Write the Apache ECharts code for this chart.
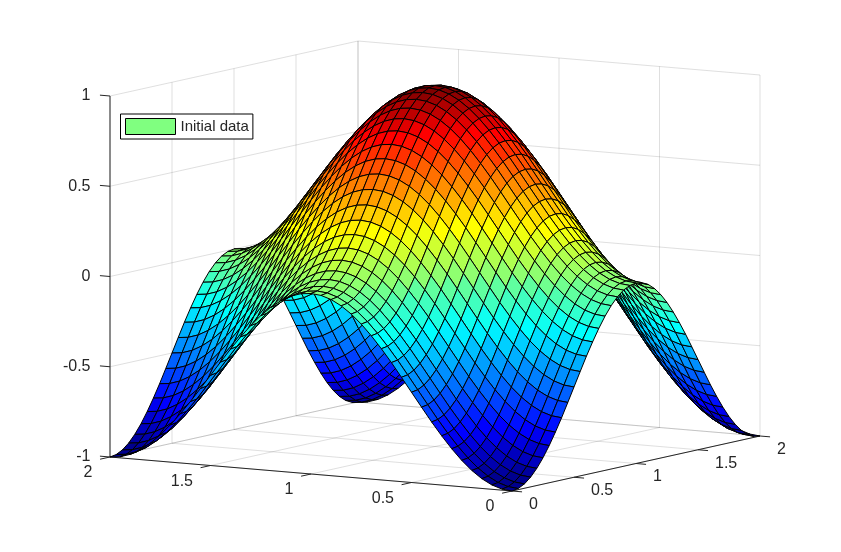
<!DOCTYPE html>
<html>
<head>
<meta charset="utf-8">
<style>html,body{margin:0;padding:0;background:#fff}#chart{width:841px;height:552px}</style>
<script src="https://cdn.jsdelivr.net/npm/echarts@6/dist/echarts.min.js"></script>
</head>
<body>
<div id="chart"></div>
<script>
const seriesName = 'Initial data'
const xTicks = [0, 0.5, 1, 1.5, 2]
const yTicks = [0, 0.5, 1, 1.5, 2]
const zTicks = [-1, -0.5, 0, 0.5, 1]
// mesh positions, same for both floor directions
const meshSteps = [0,0.05,0.1,0.15,0.2,0.25,0.3,0.35,0.4,0.45,0.5,0.55,0.6,0.65,0.7,0.75,0.8,0.85,0.9,0.95,1,1.05,1.1,1.15,1.2,1.25,1.3,1.35,1.4,1.45,1.5,1.55,1.6,1.65,1.7,1.75,1.8,1.85,1.9,1.95,2]
// surface heights in thousandths, rows follow x, columns follow y
const zRows = [
[-1000,-994,-976,-946,-905,-854,-794,-727,-655,-578,-500,-422,-345,-273,-206,-146,-95,-54,-24,-6,0,-6,-24,-54,-95,-146,-206,-273,-345,-422,-500,-578,-655,-727,-794,-854,-905,-946,-976,-994,-1000],
[-994,-988,-970,-940,-899,-848,-788,-721,-649,-572,-494,-416,-339,-267,-200,-140,-89,-48,-18,0,6,0,-18,-48,-89,-140,-200,-267,-339,-416,-494,-572,-649,-721,-788,-848,-899,-940,-970,-988,-994],
[-976,-970,-952,-922,-881,-830,-770,-703,-631,-554,-476,-398,-321,-249,-182,-122,-71,-30,0,18,24,18,0,-30,-71,-122,-182,-249,-321,-398,-476,-554,-631,-703,-770,-830,-881,-922,-952,-970,-976],
[-946,-940,-922,-892,-851,-800,-740,-673,-601,-524,-446,-368,-291,-219,-152,-92,-41,0,30,48,54,48,30,0,-41,-92,-152,-219,-291,-368,-446,-524,-601,-673,-740,-800,-851,-892,-922,-940,-946],
[-905,-899,-881,-851,-810,-759,-699,-632,-560,-483,-405,-327,-250,-178,-111,-51,0,41,71,89,95,89,71,41,0,-51,-111,-178,-250,-327,-405,-483,-560,-632,-699,-759,-810,-851,-881,-899,-905],
[-854,-848,-830,-800,-759,-708,-648,-581,-509,-432,-354,-276,-199,-127,-60,0,51,92,122,140,146,140,122,92,51,0,-60,-127,-199,-276,-354,-432,-509,-581,-648,-708,-759,-800,-830,-848,-854],
[-794,-788,-770,-740,-699,-648,-588,-521,-449,-372,-294,-216,-139,-67,0,60,111,152,182,200,206,200,182,152,111,60,0,-67,-139,-216,-294,-372,-449,-521,-588,-648,-699,-740,-770,-788,-794],
[-727,-721,-703,-673,-632,-581,-521,-454,-382,-305,-227,-149,-72,0,67,127,178,219,249,267,273,267,249,219,178,127,67,0,-72,-149,-227,-305,-382,-454,-521,-581,-632,-673,-703,-721,-727],
[-655,-649,-631,-601,-560,-509,-449,-382,-310,-233,-155,-77,0,72,139,199,250,291,321,339,345,339,321,291,250,199,139,72,0,-77,-155,-233,-310,-382,-449,-509,-560,-601,-631,-649,-655],
[-578,-572,-554,-524,-483,-432,-372,-305,-233,-156,-78,0,77,149,216,276,327,368,398,416,422,416,398,368,327,276,216,149,77,0,-78,-156,-233,-305,-372,-432,-483,-524,-554,-572,-578],
[-500,-494,-476,-446,-405,-354,-294,-227,-155,-78,0,78,155,227,294,354,405,446,476,494,500,494,476,446,405,354,294,227,155,78,0,-78,-155,-227,-294,-354,-405,-446,-476,-494,-500],
[-422,-416,-398,-368,-327,-276,-216,-149,-77,0,78,156,233,305,372,432,483,524,554,572,578,572,554,524,483,432,372,305,233,156,78,0,-77,-149,-216,-276,-327,-368,-398,-416,-422],
[-345,-339,-321,-291,-250,-199,-139,-72,0,77,155,233,310,382,449,509,560,601,631,649,655,649,631,601,560,509,449,382,310,233,155,77,0,-72,-139,-199,-250,-291,-321,-339,-345],
[-273,-267,-249,-219,-178,-127,-67,0,72,149,227,305,382,454,521,581,632,673,703,721,727,721,703,673,632,581,521,454,382,305,227,149,72,0,-67,-127,-178,-219,-249,-267,-273],
[-206,-200,-182,-152,-111,-60,0,67,139,216,294,372,449,521,588,648,699,740,770,788,794,788,770,740,699,648,588,521,449,372,294,216,139,67,0,-60,-111,-152,-182,-200,-206],
[-146,-140,-122,-92,-51,0,60,127,199,276,354,432,509,581,648,708,759,800,830,848,854,848,830,800,759,708,648,581,509,432,354,276,199,127,60,0,-51,-92,-122,-140,-146],
[-95,-89,-71,-41,0,51,111,178,250,327,405,483,560,632,699,759,810,851,881,899,905,899,881,851,810,759,699,632,560,483,405,327,250,178,111,51,0,-41,-71,-89,-95],
[-54,-48,-30,0,41,92,152,219,291,368,446,524,601,673,740,800,851,892,922,940,946,940,922,892,851,800,740,673,601,524,446,368,291,219,152,92,41,0,-30,-48,-54],
[-24,-18,0,30,71,122,182,249,321,398,476,554,631,703,770,830,881,922,952,970,976,970,952,922,881,830,770,703,631,554,476,398,321,249,182,122,71,30,0,-18,-24],
[-6,0,18,48,89,140,200,267,339,416,494,572,649,721,788,848,899,940,970,988,994,988,970,940,899,848,788,721,649,572,494,416,339,267,200,140,89,48,18,0,-6],
[0,6,24,54,95,146,206,273,345,422,500,578,655,727,794,854,905,946,976,994,1000,994,976,946,905,854,794,727,655,578,500,422,345,273,206,146,95,54,24,6,0],
[-6,0,18,48,89,140,200,267,339,416,494,572,649,721,788,848,899,940,970,988,994,988,970,940,899,848,788,721,649,572,494,416,339,267,200,140,89,48,18,0,-6],
[-24,-18,0,30,71,122,182,249,321,398,476,554,631,703,770,830,881,922,952,970,976,970,952,922,881,830,770,703,631,554,476,398,321,249,182,122,71,30,0,-18,-24],
[-54,-48,-30,0,41,92,152,219,291,368,446,524,601,673,740,800,851,892,922,940,946,940,922,892,851,800,740,673,601,524,446,368,291,219,152,92,41,0,-30,-48,-54],
[-95,-89,-71,-41,0,51,111,178,250,327,405,483,560,632,699,759,810,851,881,899,905,899,881,851,810,759,699,632,560,483,405,327,250,178,111,51,0,-41,-71,-89,-95],
[-146,-140,-122,-92,-51,0,60,127,199,276,354,432,509,581,648,708,759,800,830,848,854,848,830,800,759,708,648,581,509,432,354,276,199,127,60,0,-51,-92,-122,-140,-146],
[-206,-200,-182,-152,-111,-60,0,67,139,216,294,372,449,521,588,648,699,740,770,788,794,788,770,740,699,648,588,521,449,372,294,216,139,67,0,-60,-111,-152,-182,-200,-206],
[-273,-267,-249,-219,-178,-127,-67,0,72,149,227,305,382,454,521,581,632,673,703,721,727,721,703,673,632,581,521,454,382,305,227,149,72,0,-67,-127,-178,-219,-249,-267,-273],
[-345,-339,-321,-291,-250,-199,-139,-72,0,77,155,233,310,382,449,509,560,601,631,649,655,649,631,601,560,509,449,382,310,233,155,77,0,-72,-139,-199,-250,-291,-321,-339,-345],
[-422,-416,-398,-368,-327,-276,-216,-149,-77,0,78,156,233,305,372,432,483,524,554,572,578,572,554,524,483,432,372,305,233,156,78,0,-77,-149,-216,-276,-327,-368,-398,-416,-422],
[-500,-494,-476,-446,-405,-354,-294,-227,-155,-78,0,78,155,227,294,354,405,446,476,494,500,494,476,446,405,354,294,227,155,78,0,-78,-155,-227,-294,-354,-405,-446,-476,-494,-500],
[-578,-572,-554,-524,-483,-432,-372,-305,-233,-156,-78,0,77,149,216,276,327,368,398,416,422,416,398,368,327,276,216,149,77,0,-78,-156,-233,-305,-372,-432,-483,-524,-554,-572,-578],
[-655,-649,-631,-601,-560,-509,-449,-382,-310,-233,-155,-77,0,72,139,199,250,291,321,339,345,339,321,291,250,199,139,72,0,-77,-155,-233,-310,-382,-449,-509,-560,-601,-631,-649,-655],
[-727,-721,-703,-673,-632,-581,-521,-454,-382,-305,-227,-149,-72,0,67,127,178,219,249,267,273,267,249,219,178,127,67,0,-72,-149,-227,-305,-382,-454,-521,-581,-632,-673,-703,-721,-727],
[-794,-788,-770,-740,-699,-648,-588,-521,-449,-372,-294,-216,-139,-67,0,60,111,152,182,200,206,200,182,152,111,60,0,-67,-139,-216,-294,-372,-449,-521,-588,-648,-699,-740,-770,-788,-794],
[-854,-848,-830,-800,-759,-708,-648,-581,-509,-432,-354,-276,-199,-127,-60,0,51,92,122,140,146,140,122,92,51,0,-60,-127,-199,-276,-354,-432,-509,-581,-648,-708,-759,-800,-830,-848,-854],
[-905,-899,-881,-851,-810,-759,-699,-632,-560,-483,-405,-327,-250,-178,-111,-51,0,41,71,89,95,89,71,41,0,-51,-111,-178,-250,-327,-405,-483,-560,-632,-699,-759,-810,-851,-881,-899,-905],
[-946,-940,-922,-892,-851,-800,-740,-673,-601,-524,-446,-368,-291,-219,-152,-92,-41,0,30,48,54,48,30,0,-41,-92,-152,-219,-291,-368,-446,-524,-601,-673,-740,-800,-851,-892,-922,-940,-946],
[-976,-970,-952,-922,-881,-830,-770,-703,-631,-554,-476,-398,-321,-249,-182,-122,-71,-30,0,18,24,18,0,-30,-71,-122,-182,-249,-321,-398,-476,-554,-631,-703,-770,-830,-881,-922,-952,-970,-976],
[-994,-988,-970,-940,-899,-848,-788,-721,-649,-572,-494,-416,-339,-267,-200,-140,-89,-48,-18,0,6,0,-18,-48,-89,-140,-200,-267,-339,-416,-494,-572,-649,-721,-788,-848,-899,-940,-970,-988,-994],
[-1000,-994,-976,-946,-905,-854,-794,-727,-655,-578,-500,-422,-345,-273,-206,-146,-95,-54,-24,-6,0,-6,-24,-54,-95,-146,-206,-273,-345,-422,-500,-578,-655,-727,-794,-854,-905,-946,-976,-994,-1000]
]

const FONT = '16px "Liberation Sans", Arial, sans-serif'
const AXIS_COLOR = '#262626'
const GRID_COLOR = 'rgba(38,38,38,0.15)'

// fixed MATLAB-style view, an oblique projection of the box onto the page
const project = (x, y, z) => [
  512 - 201 * x + 124 * y,
  491 - 17 * x - 27.5 * y - 180.5 * (z + 1)
]

// jet(64)
const jetColor = (z) => {
  const k = Math.min(64, Math.floor((z + 1) / 2 * 64) + 1)
  const ch = (v) => Math.round(Math.max(0, Math.min(1, v)) * 255)
  const r = ch(Math.min((k - 24) / 16, (72 - k) / 16))
  const g = ch(Math.min((k - 8) / 16, (56 - k) / 16))
  const b = ch(Math.min((k + 8) / 16, (40 - k) / 16))
  return 'rgb(' + r + ',' + g + ',' + b + ')'
}

// back walls and floor
const gridSegments = []
zTicks.forEach(z => {
  gridSegments.push([2, 0, z, 2, 2, z])
  gridSegments.push([0, 2, z, 2, 2, z])
})
yTicks.forEach(y => {
  gridSegments.push([2, y, -1, 2, y, 1])
  gridSegments.push([0, y, -1, 2, y, -1])
})
xTicks.forEach(x => {
  gridSegments.push([x, 2, -1, x, 2, 1])
  gridSegments.push([x, 0, -1, x, 2, -1])
})

// axis lines, tick marks
const axisSegments = [
  [2, 0, -1, 2, 0, 1],
  [0, 0, -1, 2, 0, -1],
  [0, 0, -1, 0, 2, -1]
]
xTicks.forEach(x => axisSegments.push([x, 0, -1, x, -0.08, -1]))
yTicks.forEach(y => axisSegments.push([0, y, -1, -0.05, y, -1]))
zTicks.forEach(z => axisSegments.push([2, 0, z, 2.05, 0, z]))

const tickLabels = []
xTicks.forEach(x => tickLabels.push({ value: [x, 0, -1], text: String(x), dx: -17.5, dy: 16, align: 'right' }))
yTicks.forEach(y => tickLabels.push({ value: [0, y, -1], text: String(y), dx: 17, dy: 13.5, align: 'left' }))
zTicks.forEach(z => tickLabels.push({ value: [2, 0, z], text: String(z), dx: -19.5, dy: 0, align: 'right' }))

// painter's order, far corner first
const faces = []
for (let i = meshSteps.length - 2; i >= 0; i--) {
  for (let j = meshSteps.length - 2; j >= 0; j--) {
    faces.push([i, j])
  }
}

const renderSegment = (color) => (params, api) => {
  const a = api.coord(project(api.value(0), api.value(1), api.value(2)))
  const b = api.coord(project(api.value(3), api.value(4), api.value(5)))
  return {
    type: 'line',
    shape: { x1: a[0], y1: a[1], x2: b[0], y2: b[1] },
    style: { stroke: color, lineWidth: 1 }
  }
}

const renderLabel = (params, api) => {
  const item = tickLabels[params.dataIndex]
  const p = api.coord(project(api.value(0), api.value(1), api.value(2)))
  return {
    type: 'text',
    style: {
      text: item.text,
      x: p[0] + item.dx,
      y: p[1] + item.dy,
      align: item.align,
      verticalAlign: 'middle',
      fill: AXIS_COLOR,
      font: FONT
    }
  }
}

const renderFace = (params, api) => {
  const i = api.value(0)
  const j = api.value(1)
  const corner = (a, b) => api.coord(project(meshSteps[a], meshSteps[b], zRows[a][b] / 1000))
  return {
    type: 'polygon',
    shape: { points: [corner(i, j), corner(i + 1, j), corner(i + 1, j + 1), corner(i, j + 1)] },
    style: { fill: jetColor(zRows[i][j] / 1000), stroke: '#000', lineWidth: 1 }
  }
}

const base = { type: 'custom', coordinateSystem: 'cartesian2d', silent: true, clip: false, animation: false }

const chart = echarts.init(document.getElementById('chart'))
chart.setOption({
  animation: false,
  backgroundColor: '#fff',
  grid: { left: 0, right: 0, top: 0, bottom: 0 },
  xAxis: { type: 'value', min: 0, max: 841, show: false },
  yAxis: { type: 'value', min: 0, max: 552, inverse: true, show: false },
  legend: {
    left: 120.5,
    top: 114,
    orient: 'vertical',
    selectedMode: false,
    backgroundColor: '#fff',
    borderColor: '#000',
    borderWidth: 1,
    padding: [4, 4, 4, 4.5],
    itemWidth: 50,
    itemHeight: 16,
    textStyle: { color: AXIS_COLOR, fontFamily: '"Liberation Sans", Arial, sans-serif', fontSize: 15 },
    data: [{ name: seriesName, icon: 'rect', itemStyle: { color: '#80ff80', borderColor: '#000', borderWidth: 1 } }]
  },
  series: [
    Object.assign({}, base, { name: 'grid', z: 1, data: gridSegments, renderItem: renderSegment(GRID_COLOR) }),
    Object.assign({}, base, { name: 'axes', z: 2, data: axisSegments, renderItem: renderSegment(AXIS_COLOR) }),
    Object.assign({}, base, { name: 'labels', z: 2, data: tickLabels, renderItem: renderLabel }),
    Object.assign({}, base, { name: seriesName, z: 3, data: faces, renderItem: renderFace, itemStyle: { color: '#80ff80' } })
  ]
})
</script>
</body>
</html>
